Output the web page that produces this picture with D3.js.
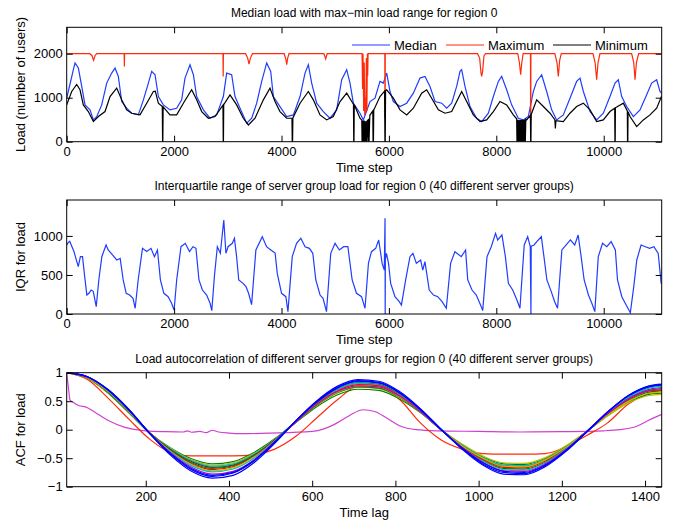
<!DOCTYPE html>
<html>
<head>
<meta charset="utf-8">
<script src="https://cdn.jsdelivr.net/npm/d3@7"></script>
<style>
  body { margin: 0; background: #fff; }
  svg text { font-family: "Liberation Sans", Arial, Helvetica, sans-serif; fill: #000; }
</style>
</head>
<body>
<div id="chart"></div>
<script>
// ---- data ----
var timeTicks = [0, 2000, 4000, 6000, 8000, 10000];
var loadTicks = [0, 1000, 2000];
var iqrTicks = [0, 500, 1000];
var lagTicks = [200, 400, 600, 800, 1000, 1200, 1400];
var acfTicks = [-1, -0.5, 0, 0.5, 1];
var legendNames = ["Median", "Maximum", "Minimum"];

var medianLoad = [[0,990],[60,1300],[124,1636],[155,1790],[217,1674],[280,1255],[341,837],[434,723],[497,495],[559,570],[652,837],[745,1332],[838,1560],[900,1674],[962,1484],[1024,913],[1117,761],[1210,647],[1334,609],[1428,951],[1521,1332],[1583,1598],[1645,1522],[1707,1027],[1800,837],[1924,723],[2048,761],[2141,951],[2203,1446],[2296,1750],[2359,1522],[2420,1027],[2545,723],[2669,533],[2793,609],[2917,1027],[2979,1560],[3072,1522],[3134,1027],[3228,761],[3352,419],[3445,533],[3538,875],[3631,1370],[3724,1790],[3799,1598],[3848,1027],[3972,799],[4096,571],[4221,609],[4345,1027],[4438,1560],[4500,1750],[4562,1332],[4655,875],[4779,685],[4903,533],[5027,723],[5121,1408],[5214,1636],[5276,1332],[5338,875],[5462,647],[5524,495],[5648,913],[5741,989],[5834,1370],[5896,1332],[5959,1560],[6021,1141],[6083,913],[6207,799],[6331,875],[6455,1103],[6579,1446],[6672,1484],[6765,1256],[6859,913],[6983,875],[7076,761],[7169,875],[7262,1256],[7324,1598],[7355,1636],[7417,1256],[7510,799],[7634,533],[7728,457],[7852,647],[7945,1027],[8038,1370],[8100,1484],[8193,1180],[8286,837],[8410,533],[8503,495],[8596,571],[8690,1141],[8752,1370],[8845,1522],[8938,1141],[9031,723],[9124,495],[9248,609],[9372,989],[9496,1370],[9559,1446],[9621,1141],[9745,685],[9869,495],[9993,647],[10117,1027],[10211,1332],[10272,1408],[10335,1027],[10428,799],[10552,571],[10676,723],[10800,1065],[10893,1332],[10986,1408],[11048,1141],[11080,1100]];

var maximumLoad = [[0,2000],[430,2000],[470,1960],[500,1850],[530,1960],[560,2000],[1070,2000],[1074,1710],[1078,2000],[2910,2000],[2914,1480],[2918,2000],[3330,2000],[3370,1900],[3395,1765],[3420,1900],[3460,2000],[4050,2000],[4080,1880],[4097,1750],[4115,1900],[4140,2000],[4790,2000],[4823,1880],[4850,2000],[5500,2000],[5510,1200],[5518,2000],[5530,700],[5540,1800],[5550,600],[5560,1000],[5570,650],[5580,1900],[5590,700],[5600,2000],[5605,1500],[5612,2000],[5924,2000],[5926,550],[5930,550],[5932,2000],[7650,2000],[7690,1900],[7715,1560],[7728,1484],[7745,1600],[7770,1950],[7800,2000],[8400,2000],[8430,1800],[8454,1522],[8475,1800],[8500,2000],[8636,2000],[8638,500],[8642,500],[8644,2000],[9090,2000],[9130,1800],[9155,1484],[9180,1850],[9210,2000],[9800,2000],[9840,1800],[9869,1408],[9895,1800],[9930,2000],[10520,2000],[10560,1800],[10583,1408],[10610,1800],[10650,2000],[11080,2000]];

var minimumLoad = [[0,837],[93,1141],[186,1300],[248,1180],[310,837],[403,685],[497,457],[590,571],[714,685],[807,1027],[931,1218],[1024,951],[1117,723],[1210,647],[1365,609],[1490,875],[1614,1141],[1650,1150],[1707,875],[1780,800],[1786,0],[1790,0],[1796,790],[1924,609],[2048,609],[2172,875],[2327,1180],[2420,951],[2514,685],[2638,533],[2762,571],[2910,830],[2915,0],[2919,0],[2924,840],[3041,1065],[3165,837],[3289,533],[3383,380],[3507,533],[3662,951],[3786,1218],[3879,913],[3972,685],[4096,533],[4195,533],[4200,0],[4206,0],[4212,540],[4345,875],[4500,1141],[4593,951],[4717,609],[4841,495],[4965,571],[5090,913],[5214,1103],[5340,850],[5345,0],[5350,0],[5355,840],[5462,533],[5495,490],[5500,0],[5510,480],[5515,0],[5525,470],[5530,0],[5540,480],[5545,0],[5555,460],[5560,0],[5575,470],[5580,0],[5600,500],[5610,0],[5620,520],[5630,0],[5645,600],[5700,700],[5705,0],[5712,0],[5718,720],[5834,1027],[5920,1150],[5926,0],[5932,0],[5938,1160],[5959,1180],[6083,989],[6207,723],[6331,609],[6455,761],[6610,1103],[6703,1180],[6796,989],[6921,723],[7045,647],[7169,685],[7262,913],[7355,1141],[7448,913],[7572,609],[7697,457],[7821,495],[7945,685],[8069,913],[8193,837],[8317,609],[8379,520],[8385,0],[8392,500],[8398,0],[8405,490],[8412,0],[8420,500],[8426,0],[8434,490],[8440,0],[8448,495],[8455,0],[8463,500],[8470,0],[8480,495],[8487,0],[8495,500],[8502,0],[8512,500],[8520,0],[8530,505],[8540,0],[8550,510],[8566,495],[8635,600],[8640,0],[8645,0],[8650,620],[8752,951],[8876,799],[9000,647],[9090,500],[9100,300],[9110,480],[9248,457],[9372,647],[9496,799],[9621,875],[9745,723],[9869,457],[9993,495],[10117,685],[10205,761],[10209,0],[10214,0],[10218,770],[10366,875],[10440,700],[10444,0],[10449,0],[10453,680],[10490,571],[10614,342],[10738,495],[10862,609],[10986,761],[11080,1040]];

var iqrLoad = [[0,880],[16,905],[56,930],[135,800],[215,606],[255,734],[295,734],[335,478],[375,243],[414,265],[454,307],[494,290],[550,94],[598,435],[654,734],[733,884],[773,820],[853,756],[932,692],[996,713],[1052,436],[1108,265],[1172,243],[1235,200],[1275,73],[1331,435],[1411,841],[1490,800],[1570,841],[1634,734],[1690,820],[1745,436],[1809,265],[1889,222],[1953,137],[2000,51],[2048,435],[2128,862],[2208,905],[2287,800],[2351,862],[2407,841],[2463,436],[2527,307],[2606,243],[2670,137],[2702,43],[2750,478],[2805,862],[2861,777],[2925,1204],[2965,777],[3005,862],[3084,905],[3124,969],[3164,734],[3204,436],[3284,393],[3339,350],[3387,265],[3443,120],[3523,820],[3642,990],[3722,862],[3802,820],[3881,780],[3921,520],[4001,265],[4081,222],[4120,30],[4200,734],[4280,905],[4360,969],[4439,862],[4519,841],[4583,777],[4639,436],[4718,243],[4774,200],[4838,30],[4917,777],[4997,905],[5077,820],[5157,862],[5236,862],[5316,436],[5396,265],[5491,222],[5555,73],[5619,649],[5675,798],[5754,841],[5810,948],[5874,649],[5914,563],[5928,1225],[5931,0],[5934,700],[5954,777],[5993,649],[6033,393],[6113,222],[6193,158],[6233,115],[6312,436],[6392,734],[6448,777],[6511,649],[6591,692],[6631,563],[6671,670],[6751,307],[6830,243],[6910,222],[6990,158],[7069,73],[7149,649],[7229,798],[7348,734],[7428,820],[7468,436],[7548,307],[7627,243],[7707,115],[7747,43],[7827,734],[7906,862],[7986,1033],[8026,948],[8105,1012],[8169,734],[8225,393],[8305,307],[8384,180],[8440,73],[8520,884],[8584,990],[8632,862],[8645,0],[8650,870],[8703,884],[8783,948],[8839,990],[8887,734],[8942,436],[9022,290],[9086,158],[9141,73],[9221,820],[9301,884],[9380,948],[9460,884],[9524,1012],[9580,734],[9636,436],[9716,243],[9779,137],[9835,30],[9899,734],[9978,905],[10058,862],[10138,927],[10217,820],[10257,436],[10337,222],[10401,137],[10496,17],[10560,350],[10616,692],[10696,884],[10776,862],[10855,840],[10935,862],[11015,777],[11070,393],[11080,390]];

var acfLags = [10,60,110,160,210,260,310,360,410,460,510,560,610,660,710,760,810,860,910,960,1010,1060,1110,1160,1210,1260,1310,1360,1410,1440];
var acfGreen1 = [1,.90,.64,.29,-.06,-.32,-.51,-.60,-.56,-.40,-.16,.12,.40,.61,.71,.69,.54,.30,0,-.26,-.48,-.60,-.61,-.50,-.29,-.03,.25,.48,.62,.64];
var acfOlive1 = [1,.90,.65,.30,-.06,-.33,-.53,-.62,-.58,-.42,-.17,.13,.42,.64,.74,.72,.56,.31,0,-.25,-.46,-.58,-.59,-.49,-.28,-.03,.24,.47,.60,.62];
var acfCyan2 = [1,.91,.66,.31,-.06,-.34,-.54,-.64,-.60,-.43,-.17,.14,.46,.70,.81,.78,.62,.34,0,-.27,-.49,-.62,-.63,-.52,-.30,-.03,.28,.54,.69,.72];
var acfGray1 = [1,.91,.66,.31,-.06,-.35,-.56,-.66,-.62,-.45,-.18,.14,.47,.72,.83,.80,.63,.35,0,-.28,-.51,-.64,-.65,-.53,-.31,-.03,.29,.56,.71,.74];
var acfGreen2 = [1,.91,.66,.31,-.06,-.36,-.58,-.68,-.63,-.46,-.19,.13,.43,.65,.75,.73,.57,.31,0,-.30,-.54,-.68,-.69,-.57,-.33,-.03,.27,.51,.66,.68];
var acfRed1 = [1,.91,.67,.32,-.06,-.37,-.60,-.70,-.65,-.47,-.19,.14,.45,.68,.79,.77,.60,.33,0,-.29,-.52,-.66,-.67,-.55,-.32,-.03,.27,.53,.68,.70];
var acfOlive2 = [1,.91,.67,.32,-.07,-.38,-.61,-.72,-.67,-.48,-.20,.13,.44,.66,.77,.75,.58,.32,0,-.28,-.50,-.64,-.65,-.53,-.31,-.03,.26,.50,.64,.66];
var acfCyan1 = [1,.92,.68,.33,-.07,-.39,-.63,-.74,-.69,-.50,-.20,.14,.48,.72,.84,.81,.64,.35,0,-.31,-.55,-.70,-.71,-.58,-.34,-.03,.30,.57,.73,.76];
var acfMagenta1 = [1,.92,.69,.34,-.07,-.41,-.66,-.78,-.73,-.53,-.21,.13,.44,.67,.77,.75,.59,.32,0,-.31,-.57,-.72,-.73,-.60,-.35,-.03,.28,.54,.69,.72];
var acfBlue3 = [1,.93,.69,.34,-.07,-.42,-.68,-.80,-.75,-.54,-.22,.15,.49,.74,.86,.83,.65,.36,0,-.32,-.58,-.73,-.75,-.62,-.36,-.03,.31,.60,.76,.79];
var acfBlue2 = [1,.93,.70,.35,-.07,-.43,-.70,-.82,-.76,-.55,-.22,.15,.48,.73,.85,.82,.65,.35,0,-.33,-.60,-.75,-.77,-.63,-.37,-.04,.31,.59,.75,.78];
var acfBlue1 = [1,.93,.70,.35,-.07,-.45,-.73,-.85,-.80,-.58,-.24,.15,.50,.76,.88,.85,.67,.37,.01,-.34,-.62,-.78,-.79,-.65,-.38,-.04,.31,.60,.77,.80];
var acfRedOdd = [1,.88,.55,.18,-.17,-.40,-.46,-.46,-.46,-.44,-.34,-.12,.20,.52,.76,.74,.53,.12,-.18,-.34,-.42,-.43,-.43,-.42,-.30,-.10,.12,.45,.64,.70];
var acfMagentaLags = [10,14,18,25,40,55,75,110,150,200,250,290,300,310,330,345,360,375,400,430,500,600,630,660,690,722,750,780,810,850,900,1000,1100,1200,1300,1340,1380,1410,1440];
var acfMagentaOdd = [1,.75,.52,.48,.42,.40,.32,.16,.04,-.02,-.035,-.04,-.02,-.045,-.03,-.05,-.01,-.04,-.06,-.07,-.06,-.03,.02,.12,.25,.35,.32,.2,.07,0,-.02,-.03,-.04,-.035,-.02,0,.06,.17,.27];

// ---- drawing ----
var width = 673, height = 522;
var plotLeft = 66.7, plotRight = 661.7;
var tickLen = 6;

var svg = d3.select("#chart").append("svg")
    .attr("width", width)
    .attr("height", height);

var clipId = 0;
function makePanel(top, bottom, xDomain, yDomain, xTicks, yTicks, title, xLabel, yLabel) {
    var x = d3.scaleLinear().domain(xDomain).range([plotLeft, plotRight]);
    var y = d3.scaleLinear().domain(yDomain).range([bottom, top]);
    var g = svg.append("g");

    clipId++;
    svg.append("clipPath").attr("id", "clip" + clipId)
        .append("rect")
        .attr("x", plotLeft).attr("y", top)
        .attr("width", plotRight - plotLeft).attr("height", bottom - top);
    var plot = g.append("g").attr("clip-path", "url(#clip" + clipId + ")");

    var fmt = function(d) { return d3.format("")(d); };

    var ax = g.append("g").attr("class", "axes");
    ax.append("g").attr("transform", "translate(0," + bottom + ")")
        .call(d3.axisBottom(x).tickValues(xTicks).tickSize(-tickLen).tickPadding(5).tickFormat(fmt));
    ax.append("g").attr("transform", "translate(0," + top + ")")
        .call(d3.axisTop(x).tickValues(xTicks).tickSize(-tickLen).tickFormat(""));
    ax.append("g").attr("transform", "translate(" + plotLeft + ",0)")
        .call(d3.axisLeft(y).tickValues(yTicks).tickSize(-tickLen).tickPadding(4).tickFormat(fmt));
    ax.append("g").attr("transform", "translate(" + plotRight + ",0)")
        .call(d3.axisRight(y).tickValues(yTicks).tickSize(-tickLen).tickFormat(""));
    ax.selectAll(".domain").remove();
    ax.selectAll(".tick line").attr("stroke", "#000");
    ax.selectAll(".tick text").attr("font-size", 13).attr("font-family", "Liberation Sans, Arial, sans-serif");

    g.append("rect")
        .attr("x", plotLeft).attr("y", top)
        .attr("width", plotRight - plotLeft).attr("height", bottom - top)
        .attr("fill", "none").attr("stroke", "#000").attr("stroke-width", 1);

    g.append("text")
        .attr("x", (plotLeft + plotRight) / 2).attr("y", top - 10)
        .attr("text-anchor", "middle").attr("font-size", 12)
        .text(title);
    g.append("text")
        .attr("x", (plotLeft + plotRight) / 2).attr("y", bottom + 30)
        .attr("text-anchor", "middle").attr("font-size", 13)
        .text(xLabel);
    g.append("text")
        .attr("transform", "translate(25," + (top + bottom) / 2 + ") rotate(-90)")
        .attr("text-anchor", "middle").attr("font-size", 13)
        .text(yLabel);

    return { x: x, y: y, plot: plot };
}

// panel 1
var p1 = makePanel(27.3, 141.7, [0, 11080], [0, 2600], timeTicks, loadTicks,
    "Median load with max\u2212min load range for region 0", "Time step", "Load (number of users)");
var line1 = d3.line().x(function(d) { return p1.x(d[0]); }).y(function(d) { return p1.y(d[1]); });
var loadSeries = [
    { data: medianLoad, color: "#1f3cff" },
    { data: maximumLoad, color: "#ff2a0a" },
    { data: minimumLoad, color: "#000000" }
];
p1.plot.selectAll("path.load")
    .data(loadSeries).enter()
    .append("path").attr("class", "load")
    .attr("d", function(d) { return line1(d.data); })
    .attr("fill", "none")
    .attr("stroke", function(d) { return d.color; })
    .attr("stroke-width", 1.2);

var legend = svg.append("g").attr("class", "legend");
var legendX = [352, 446, 553];
legendNames.forEach(function(name, i) {
    legend.append("line")
        .attr("x1", legendX[i]).attr("x2", legendX[i] + 38)
        .attr("y1", 45).attr("y2", 45)
        .attr("stroke", loadSeries[i].color).attr("stroke-width", 1);
    legend.append("text")
        .attr("x", legendX[i] + 42).attr("y", 49.5)
        .attr("font-size", 13)
        .text(name);
});

// panel 2
var p2 = makePanel(200, 314, [0, 11080], [0, 1460], timeTicks, iqrTicks,
    "Interquartile range of server group load for region 0 (40 different server groups)", "Time step", "IQR for load");
var line2 = d3.line().x(function(d) { return p2.x(d[0]); }).y(function(d) { return p2.y(d[1]); });
p2.plot.append("path")
    .attr("d", line2(iqrLoad))
    .attr("fill", "none")
    .attr("stroke", "#1f3cff")
    .attr("stroke-width", 1.2);

// panel 3
var p3 = makePanel(372.7, 486.7, [10, 1440], [-1, 1], lagTicks, acfTicks,
    "Load autocorrelation of different server groups for region 0 (40 different server groups)", "Time lag", "ACF for load");
var acfSeries = [
    { lags: acfMagentaLags, vals: acfMagentaOdd, color: "#d040d0" },
    { lags: acfLags, vals: acfRedOdd, color: "#ff2a0a" },
    { lags: acfLags, vals: acfGreen1, color: "#008000" },
    { lags: acfLags, vals: acfOlive1, color: "#bfbf00" },
    { lags: acfLags, vals: acfCyan2, color: "#00bfbf" },
    { lags: acfLags, vals: acfGray1, color: "#404040" },
    { lags: acfLags, vals: acfGreen2, color: "#008000" },
    { lags: acfLags, vals: acfRed1, color: "#ff0000" },
    { lags: acfLags, vals: acfOlive2, color: "#bfbf00" },
    { lags: acfLags, vals: acfCyan1, color: "#00bfbf" },
    { lags: acfLags, vals: acfMagenta1, color: "#bf00bf" },
    { lags: acfLags, vals: acfBlue3, color: "#0000ff" },
    { lags: acfLags, vals: acfBlue2, color: "#0000ff" },
    { lags: acfLags, vals: acfBlue1, color: "#0000ff" }
];
var line3 = d3.line().curve(d3.curveMonotoneX)
    .x(function(d) { return p3.x(d[0]); })
    .y(function(d) { return p3.y(d[1]); });
p3.plot.selectAll("path.acf")
    .data(acfSeries).enter()
    .append("path").attr("class", "acf")
    .attr("d", function(d) { return line3(d.lags.map(function(l, i) { return [l, d.vals[i]]; })); })
    .attr("fill", "none")
    .attr("stroke", function(d) { return d.color; })
    .attr("stroke-width", 1.2);
</script>
</body>
</html>
